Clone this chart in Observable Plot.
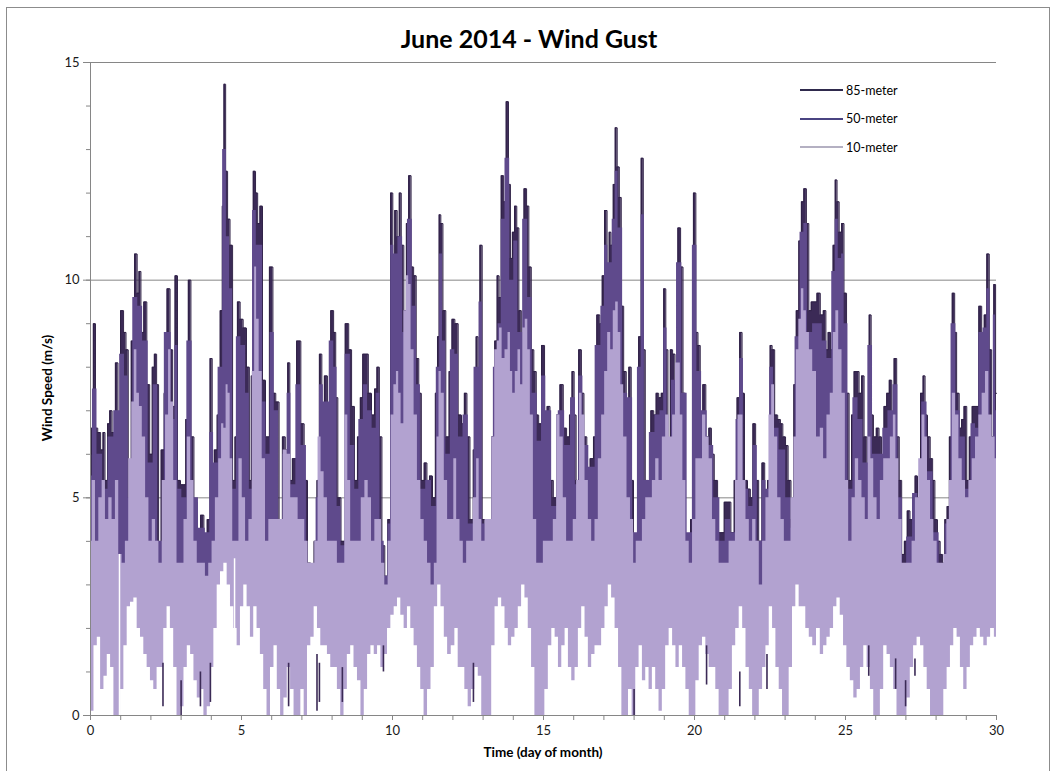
<!DOCTYPE html>
<html><head><meta charset="utf-8">
<script src="https://cdn.jsdelivr.net/npm/d3@7"></script>
<script src="https://cdn.jsdelivr.net/npm/@observablehq/plot@0.6"></script>
<style>
body{margin:0;background:#fff;}
#wrap{position:relative;width:1058px;height:771px;overflow:hidden;font-family:Lato,"Open Sans",sans-serif;color:#000;}
#frame{position:absolute;left:6px;top:7px;width:1044px;height:780px;border:1px solid #8c8c8c;box-sizing:border-box;}
#title{position:absolute;top:26px;left:0;width:1058px;text-align:center;font-weight:bold;font-size:25px;line-height:25px;}
#chart{position:absolute;left:0;top:0;}
#xtitle{position:absolute;left:0;width:1086px;top:744px;text-align:center;font-weight:bold;font-size:13.5px;}
#ytitle{position:absolute;left:47px;top:388px;transform:translate(-50%,-50%) rotate(-90deg);font-weight:bold;font-size:13.5px;white-space:nowrap;}
#legend{position:absolute;left:800px;top:76px;font-size:12.5px;}
#legend div{display:flex;align-items:center;height:28.5px;}
#legend span.sw{display:inline-block;width:43px;height:2px;margin-right:3px;}
</style></head>
<body><div id="wrap"><div id="frame"></div><div id="chart"></div><div id="title">June 2014 - Wind Gust</div>
<div id="xtitle">Time (day of month)</div><div id="ytitle">Wind Speed (m/s)</div><div id="legend"></div></div>
<script>
const seriesNames = ["85-meter", "50-meter", "10-meter"];
const seriesColors = ["#3b2a56", "#5f4a8c", "#b2a2d0"];
const legendColors = ["#2f2a4d", "#4a4482", "#b4b0c2"];
const xTicks = [0, 5, 10, 15, 20, 25, 30];
const yTicks = [0, 5, 10, 15];
const dayMarks = d3.range(0, 31);
const unitMarks = d3.range(0, 16);

// top envelope of the 85-meter gusts [day, m/s]
const gust85 = [[0,6.0],[0.06,6.6],[0.13,9.0],[0.2,6.6],[0.28,6.5],[0.39,6.1],[0.44,6.5],[0.52,5.4],[0.61,6.7],[0.66,7.0],[0.77,6.5],[0.88,8.1],[0.94,6.2],[1.05,9.3],[1.14,8.8],[1.21,8.4],[1.29,5.0],[1.41,8.6],[1.51,10.6],[1.58,9.7],[1.63,10.2],[1.71,8.8],[1.82,9.5],[1.91,7.6],[2.01,6.0],[2.08,8.0],[2.15,8.3],[2.23,7.6],[2.28,3.7],[2.4,6.1],[2.48,7.4],[2.59,9.8],[2.68,8.4],[2.76,7.1],[2.84,10.1],[2.92,5.4],[3.04,5.3],[3.11,5.3],[3.2,6.8],[3.28,10.0],[3.37,6.4],[3.48,4.9],[3.59,4.2],[3.7,4.6],[3.81,4.0],[3.92,4.5],[4.0,8.2],[4.06,5.4],[4.14,6.1],[4.25,6.9],[4.34,9.3],[4.39,11.7],[4.45,14.5],[4.5,12.5],[4.58,11.4],[4.66,10.8],[4.75,5.4],[4.82,6.4],[4.91,9.5],[5.0,9.1],[5.11,8.9],[5.22,8.0],[5.3,5.4],[5.35,7.8],[5.43,12.5],[5.5,12.0],[5.57,11.3],[5.65,11.7],[5.74,7.7],[5.85,6.4],[6.0,10.3],[6.08,7.4],[6.19,7.2],[6.3,4.5],[6.41,6.4],[6.49,6.1],[6.57,8.1],[6.63,5.4],[6.74,5.9],[6.91,8.6],[7.02,6.7],[7.13,5.4],[7.24,3.5],[7.35,2.7],[7.46,4.0],[7.54,5.4],[7.62,8.3],[7.7,6.4],[7.79,7.8],[7.9,7.0],[8.01,9.3],[8.09,8.8],[8.15,7.3],[8.23,5.0],[8.36,4.0],[8.51,9.0],[8.59,8.4],[8.7,7.1],[8.78,5.4],[8.9,6.4],[8.97,7.3],[9.06,8.3],[9.15,8.3],[9.25,7.4],[9.36,6.9],[9.45,7.5],[9.52,8.0],[9.61,6.4],[9.69,3.9],[9.8,3.2],[9.89,4.5],[9.98,12.0],[10.04,10.3],[10.11,11.6],[10.2,11.0],[10.25,12.0],[10.33,10.8],[10.42,9.3],[10.5,11.3],[10.57,12.4],[10.66,10.3],[10.74,10.1],[10.83,8.2],[10.91,7.4],[11.0,5.4],[11.1,5.8],[11.18,5.4],[11.27,5.5],[11.38,5.0],[11.46,7.4],[11.52,8.7],[11.57,11.5],[11.63,11.3],[11.71,9.3],[11.82,6.4],[11.93,7.9],[12.01,9.1],[12.12,9.0],[12.23,6.9],[12.34,6.7],[12.42,7.4],[12.51,6.4],[12.62,4.5],[12.73,6.1],[12.81,8.7],[12.86,6.4],[12.93,10.8],[13.01,4.5],[13.12,4.0],[13.23,4.0],[13.34,6.4],[13.43,8.6],[13.5,10.1],[13.56,9.6],[13.64,12.4],[13.72,11.8],[13.81,14.1],[13.87,12.2],[13.94,10.5],[14.0,11.1],[14.08,11.7],[14.15,11.2],[14.22,9.3],[14.31,8.6],[14.4,12.1],[14.48,11.7],[14.55,10.3],[14.64,8.4],[14.72,7.9],[14.8,6.9],[14.88,6.7],[14.99,8.5],[15.08,6.9],[15.16,7.1],[15.27,5.4],[15.38,5.0],[15.49,6.9],[15.6,7.6],[15.71,6.6],[15.82,6.4],[15.9,6.9],[15.99,7.9],[16.04,6.9],[16.12,5.4],[16.21,8.4],[16.3,7.4],[16.38,6.4],[16.49,5.4],[16.6,5.9],[16.71,6.4],[16.82,9.2],[16.91,9.0],[16.98,10.1],[17.06,11.6],[17.15,10.1],[17.2,11.1],[17.27,10.8],[17.35,12.2],[17.4,13.5],[17.48,12.6],[17.54,11.9],[17.61,9.4],[17.7,7.9],[17.78,5.4],[17.87,8.0],[17.94,5.4],[18.02,4.0],[18.11,4.0],[18.19,8.7],[18.28,12.8],[18.33,8.4],[18.41,5.4],[18.5,4.5],[18.61,7.0],[18.69,6.9],[18.77,7.4],[18.86,7.3],[18.94,7.4],[19.02,9.8],[19.08,8.4],[19.16,4.0],[19.24,8.4],[19.31,8.3],[19.4,7.6],[19.5,11.2],[19.58,10.3],[19.66,7.4],[19.75,4.0],[19.82,4.0],[19.92,4.5],[20.01,12.0],[20.08,8.8],[20.15,8.5],[20.23,6.9],[20.32,7.6],[20.43,6.4],[20.52,6.6],[20.6,6.0],[20.71,5.4],[20.82,4.2],[20.93,4.2],[21.04,4.9],[21.15,4.9],[21.26,4.2],[21.37,5.4],[21.45,7.3],[21.54,8.8],[21.61,7.4],[21.7,5.4],[21.81,5.2],[21.89,5.0],[21.98,6.7],[22.07,5.4],[22.18,4.0],[22.29,5.8],[22.36,4.5],[22.48,5.4],[22.53,8.5],[22.61,8.4],[22.7,6.9],[22.81,6.8],[22.88,6.7],[22.97,6.4],[23.06,6.2],[23.14,5.4],[23.25,4.5],[23.33,7.6],[23.41,9.3],[23.5,10.9],[23.58,11.8],[23.66,12.1],[23.75,11.3],[23.82,9.3],[23.91,9.5],[24.0,9.5],[24.11,9.7],[24.22,9.2],[24.31,9.3],[24.39,8.4],[24.46,8.8],[24.55,8.4],[24.63,10.8],[24.69,12.3],[24.75,11.8],[24.83,11.1],[24.91,11.3],[24.99,9.7],[25.08,7.4],[25.16,5.4],[25.24,6.9],[25.33,7.9],[25.41,7.9],[25.49,7.4],[25.57,7.8],[25.66,6.4],[25.75,5.4],[25.82,9.2],[25.88,6.9],[25.97,6.4],[26.07,6.6],[26.15,6.4],[26.23,5.4],[26.32,7.1],[26.41,7.4],[26.49,7.7],[26.57,6.9],[26.65,8.2],[26.74,6.4],[26.82,5.4],[26.9,3.7],[27.0,4.0],[27.09,4.7],[27.18,4.5],[27.27,5.0],[27.34,5.5],[27.43,5.0],[27.54,7.4],[27.6,7.8],[27.67,6.9],[27.76,6.4],[27.85,5.9],[27.92,5.4],[28.0,4.5],[28.09,4.0],[28.18,3.7],[28.25,3.5],[28.33,4.5],[28.4,4.8],[28.48,6.4],[28.59,9.7],[28.64,8.8],[28.72,7.4],[28.81,6.6],[28.88,6.8],[28.97,7.1],[29.06,5.4],[29.14,6.4],[29.25,7.1],[29.36,7.1],[29.47,9.4],[29.55,8.8],[29.64,9.2],[29.72,10.6],[29.8,8.4],[29.88,6.4],[29.94,9.9],[30.0,7.4]];

// top envelope of the 50-meter gusts
const gust50 = [[0,5.5],[0.13,7.5],[0.3,6.0],[0.5,5.2],[0.66,6.4],[0.88,7.0],[1.05,8.3],[1.2,7.8],[1.3,5.0],[1.5,9.6],[1.63,9.4],[1.82,8.6],[2.0,5.8],[2.15,7.6],[2.3,4.0],[2.59,8.8],[2.75,6.8],[2.84,8.5],[2.95,5.2],[3.1,5.0],[3.28,8.6],[3.45,5.0],[3.7,4.3],[3.9,4.2],[4.0,6.5],[4.15,5.8],[4.3,8.0],[4.45,13.0],[4.55,11.0],[4.66,9.8],[4.75,5.2],[4.91,8.7],[5.05,8.5],[5.22,7.4],[5.3,5.2],[5.43,11.6],[5.55,10.8],[5.65,10.8],[5.75,7.2],[5.87,6.0],[6.02,8.8],[6.15,7.0],[6.3,4.4],[6.45,6.0],[6.57,7.4],[6.7,5.3],[6.9,7.6],[7.05,6.2],[7.25,3.4],[7.4,3.0],[7.54,5.0],[7.62,7.6],[7.8,7.2],[8.01,8.6],[8.1,8.0],[8.23,4.8],[8.36,3.9],[8.51,8.3],[8.7,6.2],[8.8,5.2],[8.97,6.8],[9.1,7.6],[9.25,7.0],[9.4,6.6],[9.52,7.4],[9.65,4.0],[9.8,3.2],[9.9,4.4],[9.98,10.8],[10.11,10.6],[10.25,11.0],[10.42,8.8],[10.57,11.4],[10.74,9.4],[10.85,7.6],[11.0,5.2],[11.2,5.4],[11.38,4.8],[11.52,8.0],[11.6,10.6],[11.71,8.6],[11.82,6.0],[12.01,8.4],[12.12,8.3],[12.25,6.4],[12.42,6.9],[12.6,4.4],[12.8,8.0],[12.93,9.5],[13.02,4.4],[13.25,4.0],[13.43,8.0],[13.56,9.0],[13.64,11.4],[13.81,12.8],[13.95,10.0],[14.08,10.9],[14.22,8.8],[14.4,11.4],[14.55,9.6],[14.7,7.4],[14.88,6.3],[14.99,7.8],[15.16,7.0],[15.38,4.8],[15.6,7.0],[15.8,6.2],[15.99,7.3],[16.12,5.3],[16.21,7.8],[16.4,6.2],[16.6,5.7],[16.82,8.5],[16.98,9.4],[17.06,10.8],[17.2,10.4],[17.35,11.4],[17.4,12.5],[17.54,11.2],[17.7,7.4],[17.87,7.3],[18.03,4.2],[18.19,8.0],[18.28,11.5],[18.4,5.4],[18.61,6.5],[18.77,6.9],[18.94,7.0],[19.02,8.9],[19.16,4.3],[19.31,7.7],[19.5,10.4],[19.66,7.4],[19.85,4.2],[20.01,10.8],[20.15,7.9],[20.32,7.0],[20.52,6.2],[20.75,5.0],[20.93,4.0],[21.1,4.5],[21.3,4.2],[21.45,6.8],[21.54,8.2],[21.7,5.2],[21.89,4.8],[21.98,6.2],[22.18,4.0],[22.29,5.4],[22.45,5.2],[22.53,8.0],[22.7,6.6],[22.9,6.1],[23.14,5.0],[23.25,4.3],[23.41,8.7],[23.58,11.1],[23.66,11.3],[23.82,8.8],[24.0,9.0],[24.15,9.0],[24.31,8.6],[24.46,8.2],[24.63,10.2],[24.69,11.4],[24.83,10.5],[24.91,10.6],[25.0,9.0],[25.16,5.2],[25.33,7.3],[25.5,6.8],[25.66,5.8],[25.82,8.5],[25.97,6.0],[26.15,6.0],[26.32,6.6],[26.49,7.0],[26.65,7.6],[26.82,5.0],[26.95,3.4],[27.1,4.1],[27.34,5.1],[27.45,4.5],[27.6,7.2],[27.8,5.6],[28.0,4.2],[28.2,3.4],[28.4,4.4],[28.59,9.0],[28.72,7.0],[28.88,6.4],[29.06,5.2],[29.25,6.7],[29.36,6.6],[29.47,8.8],[29.64,8.9],[29.72,9.8],[29.85,6.2],[29.94,9.2],[30.0,7.0]];

// top envelope of the 10-meter gusts
const gust10Top = [[0,4.0],[0.11,5.4],[0.22,4.0],[0.33,5.0],[0.44,5.4],[0.55,4.5],[0.66,5.0],[0.77,4.5],[0.88,5.4],[0.99,3.7],[1.1,3.5],[1.21,4.0],[1.32,5.9],[1.41,7.2],[1.49,8.4],[1.58,7.4],[1.66,7.1],[1.77,6.4],[1.88,5.0],[1.99,4.0],[2.1,4.5],[2.21,4.0],[2.32,3.5],[2.43,5.4],[2.54,6.9],[2.63,8.4],[2.7,7.2],[2.81,5.4],[2.92,3.5],[3.04,3.5],[3.15,4.5],[3.26,6.4],[3.37,5.4],[3.48,4.0],[3.59,3.5],[3.75,3.5],[3.86,3.2],[3.97,3.5],[4.08,4.0],[4.19,5.0],[4.3,5.9],[4.38,6.7],[4.45,6.6],[4.53,7.6],[4.58,7.4],[4.67,5.9],[4.75,4.0],[4.86,4.0],[4.97,5.9],[5.08,5.0],[5.19,4.0],[5.3,4.5],[5.41,7.9],[5.46,10.3],[5.54,9.1],[5.63,7.9],[5.74,5.9],[5.85,4.0],[5.96,4.5],[6.07,4.5],[6.2,4.5],[6.3,4.5],[6.46,6.1],[6.57,6.0],[6.69,5.0],[6.82,5.0],[6.93,4.5],[7.04,4.5],[7.15,4.0],[7.26,3.5],[7.37,3.5],[7.48,4.0],[7.59,6.4],[7.68,5.6],[7.79,5.0],[7.9,4.0],[8.01,4.0],[8.12,4.0],[8.23,3.5],[8.36,3.5],[8.48,6.9],[8.56,5.4],[8.67,4.0],[8.78,4.0],[8.9,4.0],[9.03,5.0],[9.14,5.4],[9.25,5.0],[9.36,4.0],[9.47,4.5],[9.58,4.5],[9.69,3.5],[9.8,3.0],[9.91,4.0],[10.0,6.9],[10.09,7.6],[10.17,7.9],[10.24,7.4],[10.33,6.7],[10.42,9.3],[10.5,10.1],[10.57,9.9],[10.66,8.4],[10.77,6.9],[10.88,5.4],[11.0,4.5],[11.1,4.0],[11.22,3.5],[11.33,3.0],[11.44,3.5],[11.51,6.4],[11.57,7.9],[11.66,7.4],[11.77,5.4],[11.88,4.5],[11.99,4.5],[12.07,5.9],[12.18,4.5],[12.29,4.0],[12.4,3.5],[12.51,4.0],[12.62,4.0],[12.73,5.0],[12.84,5.9],[12.9,4.5],[13.01,4.0],[13.12,4.5],[13.23,4.5],[13.34,6.4],[13.43,8.4],[13.5,8.6],[13.59,8.9],[13.67,8.2],[13.78,8.4],[13.87,8.8],[13.94,7.9],[14.02,7.4],[14.11,7.9],[14.2,8.4],[14.28,7.6],[14.35,8.9],[14.44,9.1],[14.52,8.4],[14.61,6.9],[14.72,4.5],[14.83,3.5],[14.94,3.5],[15.05,4.0],[15.16,4.0],[15.27,4.0],[15.38,4.5],[15.49,6.9],[15.6,6.4],[15.71,5.0],[15.82,4.0],[15.93,4.0],[16.04,4.5],[16.15,5.4],[16.23,7.4],[16.32,6.9],[16.43,5.4],[16.54,4.5],[16.65,4.0],[16.76,4.5],[16.87,5.9],[16.98,6.9],[17.07,7.9],[17.18,8.8],[17.27,8.4],[17.35,9.3],[17.43,9.5],[17.52,8.8],[17.6,7.6],[17.71,6.4],[17.82,5.0],[17.94,4.5],[18.03,3.5],[18.11,4.0],[18.22,4.0],[18.33,4.5],[18.44,5.0],[18.55,5.0],[18.66,5.4],[18.77,5.9],[18.88,5.4],[18.99,6.4],[19.1,6.9],[19.22,6.4],[19.33,6.9],[19.41,8.1],[19.49,8.1],[19.57,6.9],[19.66,5.4],[19.77,4.0],[19.88,3.5],[19.99,4.5],[20.1,5.9],[20.21,5.9],[20.32,6.9],[20.43,6.4],[20.54,5.9],[20.65,4.5],[20.76,4.0],[20.87,3.5],[20.98,3.5],[21.09,3.5],[21.2,4.0],[21.31,4.0],[21.4,5.4],[21.48,6.9],[21.56,6.9],[21.65,5.4],[21.76,4.5],[21.87,4.0],[21.98,4.5],[22.09,4.0],[22.2,3.0],[22.31,4.0],[22.42,5.0],[22.51,6.9],[22.6,7.6],[22.7,6.4],[22.81,5.0],[22.92,4.5],[23.03,4.0],[23.14,4.0],[23.25,5.0],[23.33,6.4],[23.41,8.4],[23.5,9.1],[23.58,9.8],[23.66,9.3],[23.75,8.8],[23.86,8.4],[23.97,7.9],[24.11,6.4],[24.22,6.6],[24.33,5.9],[24.44,6.9],[24.55,7.4],[24.64,8.8],[24.72,9.3],[24.83,8.4],[24.94,7.4],[25.05,5.4],[25.16,4.0],[25.27,5.0],[25.38,5.9],[25.49,5.4],[25.6,5.0],[25.71,4.5],[25.8,6.4],[25.88,5.9],[25.99,5.0],[26.1,4.5],[26.21,5.4],[26.32,5.9],[26.43,5.9],[26.54,6.4],[26.63,6.9],[26.71,5.9],[26.82,4.5],[26.93,3.5],[27.04,3.5],[27.15,3.5],[27.26,4.0],[27.37,5.0],[27.48,5.9],[27.59,6.9],[27.67,6.4],[27.76,5.4],[27.87,4.5],[27.98,4.0],[28.09,3.5],[28.2,3.5],[28.31,3.7],[28.4,4.5],[28.48,5.4],[28.59,7.4],[28.7,6.9],[28.81,5.9],[28.92,5.4],[29.03,5.0],[29.14,5.4],[29.25,5.9],[29.36,6.4],[29.47,6.9],[29.58,7.4],[29.69,7.9],[29.8,6.9],[29.91,6.4],[30.0,5.9]];

// bottom envelope of the 10-meter gusts
const gust10Bottom = [[0,0],[0.06,0.1],[0.17,1.6],[0.28,1.8],[0.39,0.6],[0.5,0.9],[0.61,1.4],[0.72,1.1],[0.83,0],[0.94,0],[1.05,0.6],[1.16,1.6],[1.27,2.5],[1.38,2.6],[1.49,2.7],[1.6,2.0],[1.71,1.8],[1.82,1.4],[1.93,1.1],[2.04,0.8],[2.15,0.6],[2.26,1.1],[2.37,1.1],[2.48,2.0],[2.59,2.5],[2.7,2.0],[2.81,1.1],[2.92,0],[3.04,0.2],[3.15,1.1],[3.26,1.6],[3.37,1.4],[3.48,0.8],[3.59,0.4],[3.7,0.6],[3.81,0],[3.92,0.2],[4.03,1.1],[4.14,2.0],[4.25,3.0],[4.36,3.3],[4.47,3.5],[4.58,3.0],[4.69,2.5],[4.8,2.0],[4.91,1.6],[5.02,2.5],[5.13,3.0],[5.24,2.5],[5.35,1.8],[5.46,2.5],[5.57,2.0],[5.68,1.4],[5.79,0.6],[5.9,0],[6.02,1.1],[6.13,1.6],[6.24,0.6],[6.35,0],[6.46,0.4],[6.57,1.1],[6.68,0.6],[6.8,0],[6.91,0],[7.02,0.6],[7.13,0],[7.24,1.6],[7.35,1.8],[7.46,2.5],[7.57,2.0],[7.68,1.6],[7.79,1.6],[7.9,1.4],[8.01,1.1],[8.12,1.1],[8.23,0.6],[8.34,0],[8.45,0.6],[8.56,1.4],[8.67,1.6],[8.78,1.1],[8.9,0.8],[9.01,0],[9.12,0.6],[9.23,1.4],[9.34,1.6],[9.45,1.4],[9.56,1.6],[9.67,1.1],[9.78,1.4],[9.89,2.0],[10.0,2.3],[10.11,2.5],[10.22,2.7],[10.33,2.3],[10.44,2.0],[10.55,2.5],[10.66,2.0],[10.77,1.6],[10.88,1.1],[10.99,0.6],[11.1,0],[11.22,0.6],[11.33,1.1],[11.44,2.5],[11.55,3.0],[11.66,2.5],[11.77,1.8],[11.88,1.4],[12.01,1.6],[12.12,2.0],[12.23,1.1],[12.34,1.1],[12.45,0.6],[12.56,0.2],[12.67,0.6],[12.78,1.1],[12.9,0.9],[13.01,0],[13.12,0],[13.23,0],[13.34,1.6],[13.45,2.5],[13.56,2.7],[13.67,2.5],[13.78,2.0],[13.89,1.6],[14.0,1.8],[14.11,2.0],[14.22,2.5],[14.33,3.0],[14.44,2.7],[14.55,2.0],[14.66,1.1],[14.77,0],[14.88,0],[14.99,0],[15.1,0.6],[15.22,1.6],[15.33,2.0],[15.44,1.8],[15.55,1.1],[15.66,1.6],[15.77,2.0],[15.88,1.1],[15.99,0.8],[16.1,1.1],[16.21,2.0],[16.32,2.5],[16.43,1.8],[16.54,1.1],[16.65,1.4],[16.76,1.6],[16.87,1.6],[16.98,2.0],[17.09,2.5],[17.2,3.0],[17.31,2.7],[17.43,2.0],[17.54,1.1],[17.65,0],[17.76,0],[17.87,0.6],[18.0,0],[18.11,1.1],[18.22,1.6],[18.33,0.8],[18.44,1.1],[18.55,0.6],[18.66,1.1],[18.77,0.6],[18.88,0.1],[18.99,0.6],[19.1,1.6],[19.22,2.0],[19.33,1.6],[19.44,1.1],[19.55,1.6],[19.66,1.1],[19.77,0.6],[19.88,0],[19.99,0],[20.1,0.8],[20.21,1.6],[20.32,1.8],[20.43,1.4],[20.54,1.1],[20.65,1.1],[20.76,0.6],[20.87,0],[20.98,0],[21.09,0],[21.2,0.6],[21.31,1.6],[21.42,2.0],[21.54,2.5],[21.65,2.0],[21.76,1.1],[21.87,0.6],[21.98,0],[22.09,0],[22.2,0.6],[22.31,1.1],[22.42,1.6],[22.53,2.5],[22.64,2.0],[22.75,1.1],[22.86,0.6],[22.97,0],[23.08,0],[23.19,1.1],[23.3,2.5],[23.41,3.0],[23.52,2.5],[23.63,2.5],[23.74,2.0],[23.86,1.8],[23.97,1.6],[24.11,2.0],[24.22,1.4],[24.33,1.6],[24.44,1.8],[24.55,2.0],[24.66,2.5],[24.77,2.7],[24.88,2.3],[24.99,1.6],[25.1,1.1],[25.22,0.8],[25.33,0.4],[25.44,0.6],[25.55,1.1],[25.66,1.6],[25.77,1.1],[25.88,0.6],[25.99,0],[26.1,0],[26.21,0.6],[26.32,1.6],[26.43,1.4],[26.54,1.1],[26.65,0.6],[26.76,0],[26.87,0],[26.98,0],[27.09,0.4],[27.2,1.1],[27.31,1.6],[27.43,1.8],[27.54,1.6],[27.65,1.1],[27.76,0.6],[27.87,0],[27.98,0],[28.09,0],[28.2,0],[28.31,0.6],[28.42,1.1],[28.53,1.6],[28.64,2.0],[28.75,1.8],[28.86,1.1],[28.97,0.6],[29.08,1.1],[29.19,1.6],[29.3,1.8],[29.41,2.0],[29.52,1.8],[29.64,1.6],[29.75,1.8],[29.86,2.0],[30.0,1.8]];

// short 85-meter dips that show below the 10-meter band [day, low, high]
const lowSpikes85 = [[2.4,0.2,1.2],[3.0,0,0.8],[3.64,0.2,1.0],[3.97,0.3,1.2],[6.56,0.2,1.2],[7.5,0.1,1.4],[7.58,0.3,1.2],[8.34,0.3,1.1],[9.7,1.0,1.6],[12.68,0.3,1.2],[18.0,0,0.6],[20.4,0.7,1.6],[21.5,0.2,1.0],[22.4,0.6,1.4],[25.77,0.9,1.6],[26.66,0.6,1.3],[26.99,0.2,0.8],[27.3,0.9,1.3]];
// brief dropouts of all sensors [day, top]
const dropouts = [[0.96,3.7],[4.77,3.6]];

const X = d => d[0], Y = d => d[1];
const curve = "step";
const chart = Plot.plot({
  width: 1058, height: 771,
  marginLeft: 90, marginRight: 62, marginTop: 62, marginBottom: 56,
  x: {domain: [0, 30]},
  y: {domain: [0, 15]},
  style: {fontFamily: "Lato, 'Open Sans', sans-serif", fontSize: "13px", color: "#1a1a1a", background: "transparent", overflow: "visible"},
  marks: [
    Plot.ruleY(yTicks.filter(v => v > 0), {stroke: "#868686", strokeWidth: 1}),
    Plot.areaY(gust85, {x: X, y: Y, fill: seriesColors[0], curve}),
    Plot.lineY(gust85, {x: X, y: Y, stroke: "#2f2146", strokeWidth: 1, curve}),
    Plot.areaY(gust50, {x: X, y: Y, fill: seriesColors[1], curve}),
    Plot.areaY(gust10Top, {x: X, y: Y, fill: seriesColors[2], curve}),
    Plot.areaY(gust10Bottom, {x: X, y: Y, fill: "#ffffff", curve}),
    Plot.ruleX(lowSpikes85, {x: X, y1: d => d[1], y2: d => d[2], stroke: seriesColors[0], strokeWidth: 1.6}),
    Plot.ruleX(dropouts, {x: X, y1: 0, y2: Y, stroke: "#ffffff", strokeWidth: 1.5}),
    Plot.ruleY([0], {stroke: "#868686"}),
    Plot.ruleX([0], {stroke: "#868686"}),
    Plot.axisX({ticks: dayMarks, tickSize: 5, tickPadding: 5, stroke: "#868686", tickFormat: d => xTicks.includes(d) ? String(d) : "", label: null}),
    Plot.axisY({ticks: unitMarks, tickSize: 4, stroke: "#868686", tickFormat: () => "", label: null}),
    Plot.axisY({ticks: yTicks, tickSize: 7, tickPadding: 4, stroke: "#868686", label: null})
  ]
});
document.getElementById("chart").appendChild(chart);

const legend = document.getElementById("legend");
seriesNames.forEach((name, i) => {
  const row = document.createElement("div");
  row.innerHTML = `<span class="sw" style="background:${legendColors[i]}"></span><span>${name}</span>`;
  legend.appendChild(row);
});
</script></body></html>
